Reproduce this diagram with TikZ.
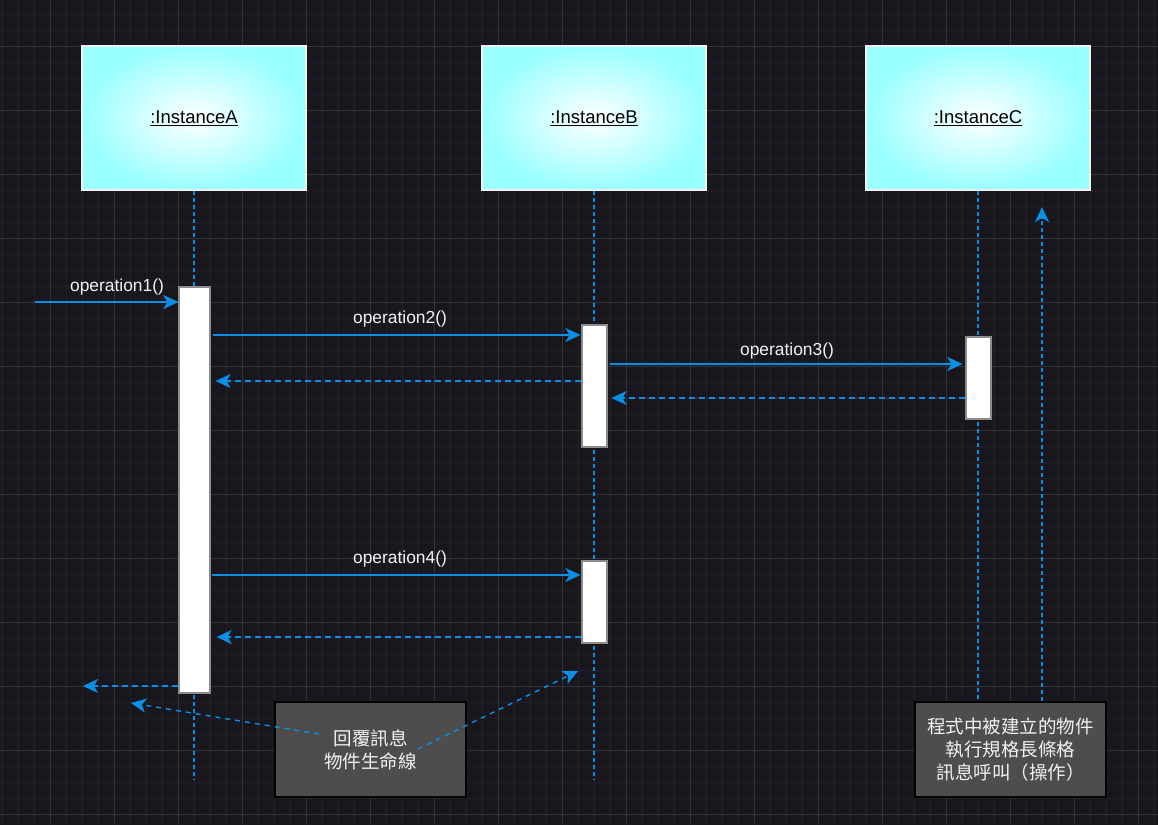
\documentclass[tikz,border=0pt]{standalone}
\usepackage{fontspec}
\setmainfont{Liberation Sans}
\newfontfamily\cjk{Noto Sans CJK TC}
\usetikzlibrary{arrows.meta}
\definecolor{bg}{HTML}{18171E}
\definecolor{minorg}{HTML}{211F27}
\definecolor{majorg}{HTML}{35343A}
\definecolor{lblue}{HTML}{0A8FE8}
\definecolor{cyanb}{HTML}{99FFFF}
\definecolor{notef}{HTML}{4D4D4D}
\definecolor{txtw}{HTML}{F2F2F2}
\tikzset{
  inst/.style={draw=white!88!gray, line width=1.3pt, minimum width=224pt, minimum height=144pt,
    inner sep=0pt, shading=radial, inner color=white, outer color=cyanb,
    font=\fontsize{18.5}{22}\selectfont, text=black},
  lifeline/.style={draw=lblue, line width=1.4pt, dash pattern=on 4pt off 3pt},
  actbar/.style={draw=gray!90, fill=white, line width=1.2pt, inner sep=0pt},
  tipb/.style={-{Stealth[length=15pt,width=14pt,inset=4pt]}},
  msg/.style={draw=lblue, line width=1.4pt, tipb},
  ret/.style={draw=lblue, line width=1.4pt, tipb, dash pattern=on 6pt off 4pt},
  noteline/.style={draw=lblue, line width=1.4pt, tipb, dash pattern=on 5pt off 5pt},
  lbl/.style={text=txtw, font=\fontsize{17.4}{20}\selectfont, inner sep=0pt},
  note/.style={draw=black, line width=2pt, fill=notef, minimum width=191pt, minimum height=95pt,
    inner sep=0pt, text=txtw, align=center, font=\cjk\fontsize{18.5}{23}\selectfont}
}
\begin{document}
\begin{tikzpicture}[x=1pt,y=-1pt]
\useasboundingbox (0,0) rectangle (1158,825);
\fill[bg] (0,0) rectangle (1158,825);
% grid
\foreach \x in {2,18,...,1158} \draw[minorg, line width=0.8pt] (\x,0) -- (\x,825);
\foreach \y in {14,30,...,825} \draw[minorg, line width=0.8pt] (0,\y) -- (1158,\y);
\foreach \x in {50,114,...,1158} \draw[majorg, line width=1pt] (\x,0) -- (\x,825);
\foreach \y in {46,110,...,825} \draw[majorg, line width=1pt] (0,\y) -- (1158,\y);

% instances
\node[inst] (A) at (194,118) {\raisebox{-2pt}{\underline{:InstanceA}}};
\node[inst] (B) at (594,118) {\raisebox{-2pt}{\underline{:InstanceB}}};
\node[inst] (C) at (978,118) {\raisebox{-2pt}{\underline{:InstanceC}}};

% notes
\node[note] (n1) at (370.5,749.5) {回覆訊息\\物件生命線};
\node[note] (n2) at (1010.5,749.5) {程式中被建立的物件\\執行規格長條格\\訊息呼叫（操作）};

% lifelines
\coordinate (endA) at (194,780);
\coordinate (endB) at (594,780);
\draw[lifeline] (A.south) -- (endA);
\draw[lifeline] (B.south) -- (endB);
\draw[lifeline] (C.south) -- (C.south |- n2.north);

% activation bars
\node[actbar, minimum width=31pt, minimum height=406pt] (a1) at (194.5,490) {};
\node[actbar, minimum width=25pt, minimum height=122pt] (b1) at (594.5,386) {};
\node[actbar, minimum width=25pt, minimum height=82pt] (b2) at (594.5,602) {};
\node[actbar, minimum width=25pt, minimum height=82pt] (c1) at (978.5,378) {};

% messages
\coordinate (s1) at (35,302);
\draw[msg] (s1) -- (a1.west |- s1);
\node[lbl] (l1) at (117,287) {operation1()};

\draw[msg, shorten <=2pt, shorten >=1pt] (a1.east |- 0,335) -- (b1.west |- 0,335);
\node[lbl] (l2) at (400,319) {operation2()};

\draw[ret, shorten >=5pt] (b1.west |- 0,381) -- (a1.east |- 0,381);

\draw[msg, shorten <=2pt, shorten >=3pt] (b1.east |- 0,364) -- (c1.west |- 0,364);
\node[lbl] (l3) at (787,351) {operation3()};

\draw[ret, shorten >=4pt] (c1.west |- 0,398) -- (b1.east |- 0,398);

\draw[msg, shorten <=1pt, shorten >=1pt] (a1.east |- 0,575) -- (b2.west |- 0,575);
\node[lbl] (l4) at (400,559) {operation4()};

\draw[ret, shorten >=6pt] (b2.west |- 0,637) -- (a1.east |- 0,637);

\coordinate (e0) at (83,686);
\draw[ret] (a1.west |- e0) -- (e0);

% note connectors
\coordinate (n1l) at (319,734);
\coordinate (t1l) at (131,703);
\coordinate (n1r) at (418,749);
\coordinate (t1r) at (578,671);
\draw[noteline] (n1l) -- (t1l);
\draw[noteline] (n1r) -- (t1r);

\coordinate (t2) at (1042,207);
\draw[noteline, dash pattern=on 4pt off 3pt] (n2.north -| t2) -- (t2);
\end{tikzpicture}
\end{document}
